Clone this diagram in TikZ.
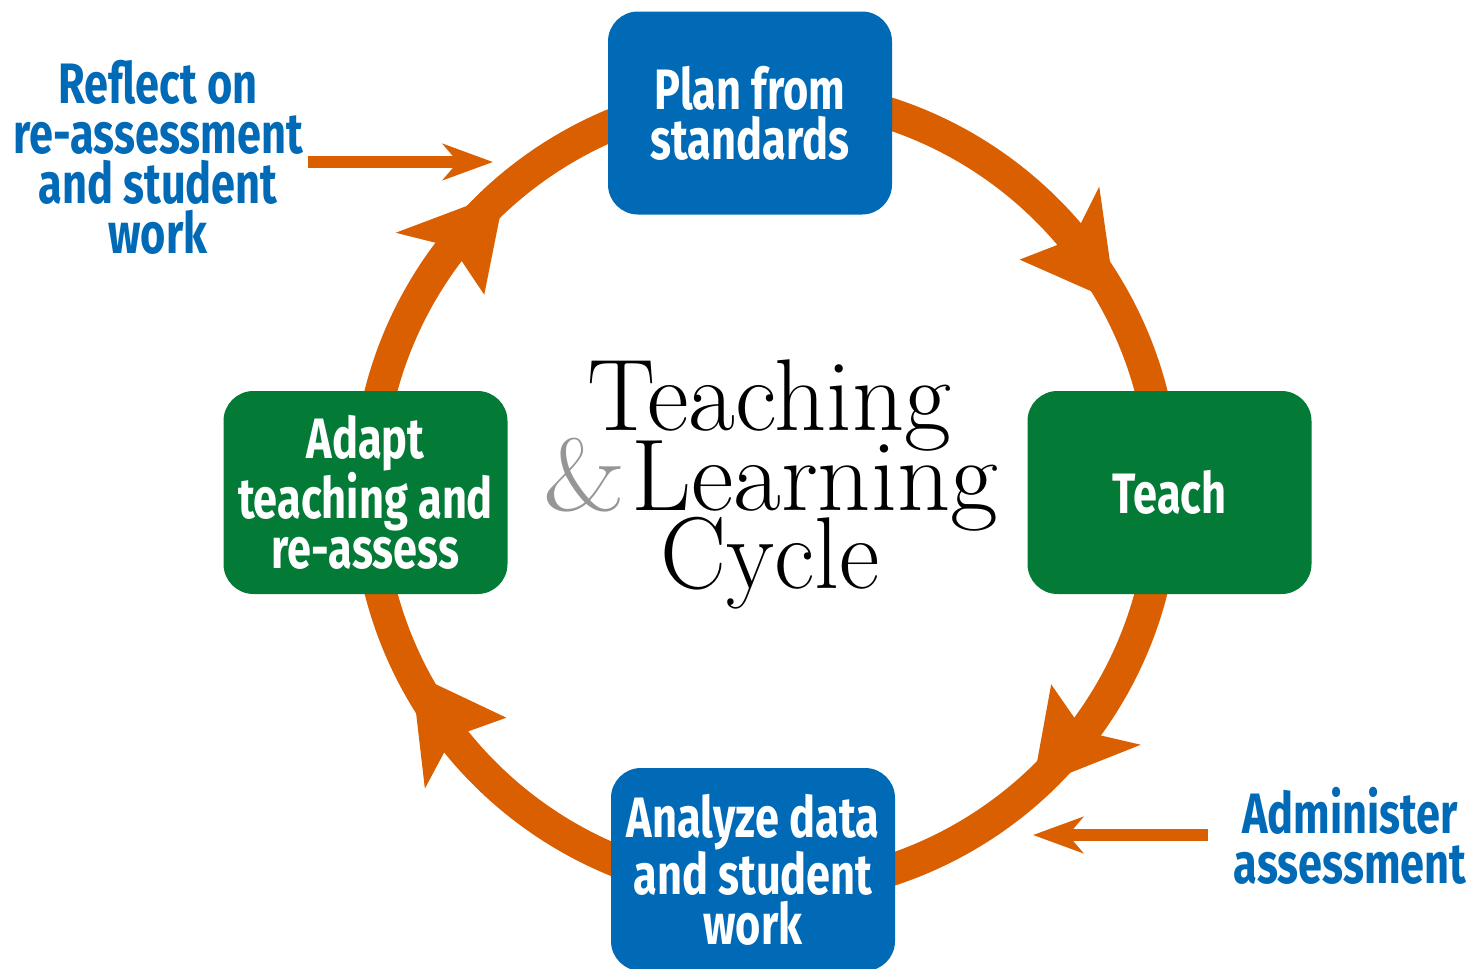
\documentclass[tikz,border=0pt]{standalone}
\usepackage{fontspec}
\newfontfamily\condfont[FakeStretch=0.76]{Fira Sans}
\usetikzlibrary{arrows.meta}
\definecolor{ringorange}{RGB}{217,95,0}
\definecolor{boxblue}{RGB}{0,106,182}
\definecolor{boxgreen}{RGB}{3,122,53}
\definecolor{ampgray}{RGB}{150,150,150}
\newcommand\ringtip[3]{\fill[ringhead] (#1:398) -- (#2:452) -- (#3:398) -- (#2:344) -- cycle;}
\begin{document}
\begin{tikzpicture}[x=1pt,y=-1pt,
  stepbox/.style={rounded corners=30pt, minimum width=284pt, minimum height=203pt,
    inner sep=0pt, text=white, align=center,
    font=\condfont\bfseries\fontsize{57}{50}\selectfont},
  bluebox/.style={stepbox, fill=boxblue},
  greenbox/.style={stepbox, fill=boxgreen},
  sidelabel/.style={text=boxblue, align=center, inner sep=0pt,
    font=\condfont\bfseries\fontsize{57}{50}\selectfont},
  ring/.style={draw=ringorange, line width=32pt},
  ringhead/.style={fill=ringorange},
  feed/.style={draw=ringorange, line width=12pt,
    -{Stealth[length=50pt,width=36pt,inset=15pt]}},
  titletext/.style={inner sep=0pt, anchor=base, font=\fontsize{102}{80}\selectfont}
]
\useasboundingbox (0,0) rectangle (1470,969);
\fill[white] (0,0) rectangle (1470,969);

% ring
\coordinate (c) at (766,492);
\draw[ring] (c) circle (398);
\begin{scope}[shift={(766,492)}, yscale=-1]
  \ringtip{28.5}{42.5}{39.5}
  \ringtip{-48}{-34}{-37}
  \ringtip{207}{221}{218}
  \ringtip{131}{145}{142}
\end{scope}

% boxes
\node[bluebox]  (plan)    at (750,113)   {Plan from\\standards};
\node[greenbox] (teach)   at (1169.5,492.5) {Teach};
\node[bluebox]  (analyze) at (753,869.5) {Analyze data\\and student\\work};
\node[greenbox] (adapt)   at (365.5,492.5) {Adapt\\teaching and\\re-assess};

% side labels and their arrows
\node[sidelabel] (reflect) at (158,157) {Reflect on\\re-assessment\\and student\\work};
\node[sidelabel] (admin) at (1350,836) {Administer\\assessment};
\coordinate (r1) at (308,162);
\coordinate (r2) at (493,162);
\coordinate (a1) at (1208,835);
\coordinate (a2) at (1033,835);
\draw[feed] (r1) -- (r2);
\draw[feed] (a1) -- (a2);

% title
\node[titletext] (t1) at (769,430) {Teaching};
\node[titletext, anchor=base west] (t2) at (631,510) {\scalebox{1.02}[1]{Learning}};
\node[titletext, anchor=base east, text=ampgray] (amp) at (626,510) {\scalebox{1.12}[1]{\&}};
\node[titletext] (t3) at (770,588) {\scalebox{0.97}[1]{Cycle}};
\end{tikzpicture}
\end{document}
